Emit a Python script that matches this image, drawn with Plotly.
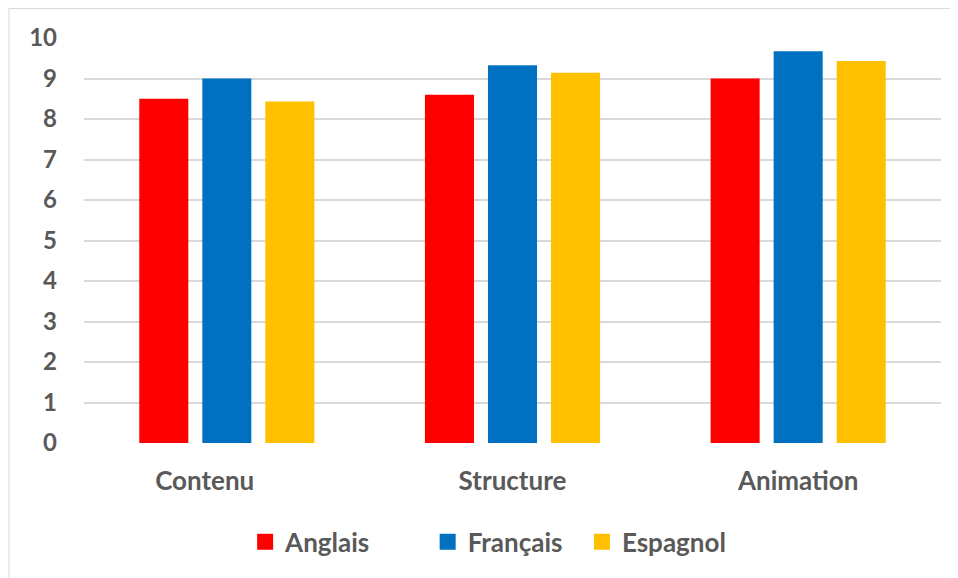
import plotly.graph_objects as go

categories = ["Contenu", "Structure", "Animation"]
tick_labels = ["Contenu\u00a0\u00a0\u00a0\u00a0\u00a0\u00a0\u00a0", "Structure", "Animation"]
series_names = ["Anglais", "Français", "Espagnol"]
anglais = [8.5, 8.6, 9.0]
francais = [9.0, 9.33, 9.67]
espagnol = [8.43, 9.14, 9.43]
colors = ["#FF0000", "#0070C0", "#FFC000"]
y_ticks = [0, 1, 2, 3, 4, 5, 6, 7, 8, 9, 10]

FONT = "Lato"
GRAY = "#595959"

fig = go.Figure()
values = [anglais, francais, espagnol]
legend_ids = ["legend", "legend2", "legend3"]
for name, vals, col in zip(series_names, values, colors):
    fig.add_trace(go.Bar(x=categories, y=vals, name=name, marker=dict(color=col, line=dict(width=0)),
                         showlegend=False))
for name, col, lg in zip(series_names, colors, legend_ids):
    fig.add_trace(go.Scatter(x=[None], y=[None], mode="markers", name=name,
                             marker=dict(symbol="square", size=17, color=col),
                             legend=lg, showlegend=True))

legend_common = dict(orientation="h", yanchor="middle", y=-0.244, xanchor="left",
                     font=dict(family=FONT, size=26, color=GRAY, weight="bold"),
                     bgcolor="rgba(0,0,0,0)", itemsizing="trace")
fig.update_layout(
    width=950, height=570,
    margin=dict(l=76, r=17, t=30, b=135),
    paper_bgcolor="white", plot_bgcolor="white",
    barmode="group", bargap=0.338, bargroupgap=0.222,
    font=dict(family=FONT, color=GRAY),
    legend=dict(x=0.188, **legend_common),
    legend2=dict(x=0.401, **legend_common),
    legend3=dict(x=0.581, **legend_common),
    xaxis=dict(tickmode="array", tickvals=categories, ticktext=tick_labels,
               tickfont=dict(family=FONT, size=26, color=GRAY, weight="bold"),
               showgrid=False, showline=False, zeroline=False, ticks="",
               ticklabelstandoff=20),
    yaxis=dict(range=[0, 10], tickvals=y_ticks, showgrid=True, gridcolor="#D9D9D9", gridwidth=1.5,
               zeroline=False, showline=False, ticks="",
               tickfont=dict(family=FONT, size=24, color=GRAY, weight="bold"),
               ticklabelstandoff=26),
    shapes=[dict(type="rect", xref="paper", yref="paper", x0=-0.0875, x1=1.2, y0=-0.6, y1=1.073,
                 line=dict(color="#D9D9D9", width=1), fillcolor="rgba(0,0,0,0)", layer="below")],
)

fig.write_html("out.html")
